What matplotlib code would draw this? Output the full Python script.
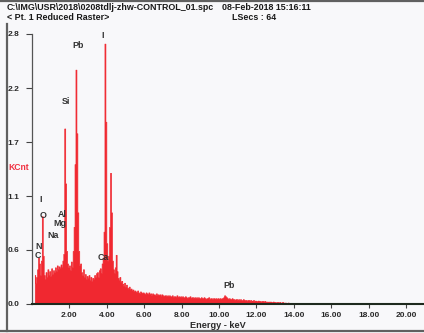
import numpy as np
import matplotlib
matplotlib.use("Agg")
import matplotlib.pyplot as plt
from matplotlib.lines import Line2D

# ---- spectrum data (KCnt per 0.05 keV channel, starting at 0.15 keV) ----
channel_start_kev = 0.15
channel_width_kev = 0.05
counts_kcnt = [
    0.30, 0.22, 0.28, 0.36, 0.48, 0.42, 0.30, 0.45, 0.91, 0.50,
    0.30, 0.26, 0.33, 0.28, 0.36, 0.30, 0.34, 0.29, 0.37, 0.31,
    0.35, 0.33, 0.38, 0.34, 0.40, 0.36, 0.39, 0.37, 0.41, 0.38,
    0.45, 0.52, 1.82, 1.25, 0.55, 0.42, 0.38, 0.40, 0.35, 0.44,
    0.38, 0.55, 0.80, 1.45, 2.43, 1.77, 0.95, 0.55, 0.40, 0.42,
    0.33, 0.30, 0.36, 0.28, 0.31, 0.26, 0.29, 0.27, 0.30, 0.25,
    0.28, 0.24, 0.27, 0.26, 0.30, 0.28, 0.32, 0.33, 0.28, 0.35,
    0.37, 0.32, 0.42, 0.48, 0.75, 2.70, 1.89, 0.63, 0.45, 0.50,
    0.80, 1.36, 0.95, 0.45, 0.36, 0.32, 0.38, 0.51, 0.34, 0.27,
    0.25, 0.28, 0.23, 0.24, 0.21, 0.19, 0.22, 0.18, 0.20, 0.17,
    0.16, 0.18, 0.15, 0.16, 0.14, 0.15, 0.13, 0.14, 0.13, 0.12,
    0.14, 0.12, 0.11, 0.13, 0.12, 0.11, 0.12, 0.11, 0.10, 0.12,
    0.11, 0.10, 0.12, 0.10, 0.11, 0.09, 0.11, 0.10, 0.10, 0.09,
    0.11, 0.09, 0.10, 0.09, 0.10, 0.08, 0.10, 0.09, 0.08, 0.09,
    0.09, 0.08, 0.09, 0.08, 0.09, 0.08, 0.08, 0.09, 0.07, 0.08,
    0.08, 0.07, 0.09, 0.07, 0.08, 0.07, 0.08, 0.07, 0.08, 0.07,
    0.07, 0.08, 0.07, 0.06, 0.07, 0.07, 0.08, 0.06, 0.07, 0.07,
    0.06, 0.07, 0.06, 0.07, 0.06, 0.07, 0.06, 0.06, 0.07, 0.06,
    0.06, 0.07, 0.06, 0.05, 0.06, 0.06, 0.07, 0.05, 0.06, 0.06,
    0.05, 0.06, 0.06, 0.05, 0.06, 0.05, 0.06, 0.05, 0.06, 0.05,
    0.06, 0.06, 0.07, 0.09, 0.08, 0.07, 0.06, 0.05, 0.06, 0.05,
    0.05, 0.06, 0.05, 0.05, 0.04, 0.05, 0.05, 0.04, 0.05, 0.04,
    0.05, 0.04, 0.04, 0.05, 0.04, 0.04, 0.04, 0.035, 0.04, 0.04,
    0.035, 0.04, 0.03, 0.035, 0.04, 0.03, 0.035, 0.03, 0.03, 0.035,
    0.03, 0.03, 0.025, 0.03, 0.03, 0.025, 0.03, 0.025, 0.025, 0.02,
    0.025, 0.02, 0.025, 0.02, 0.02, 0.025, 0.02, 0.02, 0.015, 0.02,
    0.02, 0.015, 0.02, 0.015, 0.015, 0.02, 0.015, 0.012, 0.015, 0.012,
    0.012, 0.015, 0.01, 0.012, 0.01, 0.012, 0.01, 0.008, 0.01, 0.008,
    0.008, 0.01, 0.007, 0.008, 0.006, 0.007, 0.005, 0.006, 0.004, 0.003,
]

# element identifications: (label, energy keV, KCnt position of label)
element_labels = ["I", "O", "Al", "Mg", "Na", "N", "C", "Si", "Pb", "I", "Ca", "Pb"]
element_x_kev = [0.48, 0.59, 1.60, 1.50, 1.12, 0.37, 0.32, 1.82, 2.46, 3.80, 3.80, 10.53]
element_y_kcnt = [1.08, 0.92, 0.93, 0.84, 0.71, 0.60, 0.50, 2.10, 2.68, 2.78, 0.48, 0.19]

y_tick_labels = ["0.0", "0.6", "1.1", "1.7", "2.2", "2.8"]
x_tick_values = [2, 4, 6, 8, 10, 12, 14, 16, 18, 20]
x_tick_labels = ["2.00", "4.00", "6.00", "8.00", "10.00", "12.00",
                 "14.00", "16.00", "18.00", "20.00"]

header_path = "C:\\IMG\\USR\\2018\\0208tdlj-zhw-CONTROL_01.spc"
header_date = "08-Feb-2018 15:16:11"
header_mode = "< Pt. 1 Reduced Raster>"
header_live = "LSecs : 64"

energy_kev = channel_start_kev + channel_width_kev * np.arange(len(counts_kcnt))
counts = np.array(counts_kcnt)

W, H = 424, 333
bg = "#f8f8fa"
spec_red = "#f02830"
txt = "#2a2a2a"
font = "Liberation Sans"

fig = plt.figure(figsize=(W / 100, H / 100), dpi=100, facecolor=bg)
ax = fig.add_axes([32 / W, 29 / H, (W - 32) / W, 270 / H], facecolor=bg)

ax.fill_between(energy_kev, 0, counts, step="mid", color=spec_red,
                linewidth=0.5, edgecolor=spec_red)

ax.set_xlim(0, (W - 32) / 18.7)
ax.set_ylim(0, 2.8)

for side in ("top", "right"):
    ax.spines[side].set_visible(False)
ax.spines["left"].set_color("#555555")
ax.spines["left"].set_linewidth(0.9)
ax.spines["bottom"].set_color("#1e2a1e")
ax.spines["bottom"].set_linewidth(1.5)

ax.set_yticks(np.linspace(0, 2.8, len(y_tick_labels)))
ax.set_yticklabels(y_tick_labels)
ax.set_xticks(x_tick_values)
ax.set_xticklabels(x_tick_labels)
ax.tick_params(axis="y", direction="out", length=4, width=0.8,
               color="#444444", pad=5)
ax.tick_params(axis="x", direction="out", length=3, width=0.8,
               color="#444444", pad=2.5)
for lab in ax.get_xticklabels() + ax.get_yticklabels():
    lab.set_fontfamily(font)
    lab.set_fontweight("bold")
    lab.set_fontsize(6)
    lab.set_color(txt)

for name, ex, ey in zip(element_labels, element_x_kev, element_y_kcnt):
    ax.text(ex, ey, name, ha="center", va="center", fontsize=6.4,
            fontweight="bold", family=font, color="#333333")

# header block and axis captions
hdr = dict(ha="left", va="center", fontsize=6.4, fontweight="bold",
           family=font, color="#1a1a1a")
fig.text(7 / W, 1 - 7 / H, header_path, **hdr)
fig.text(222 / W, 1 - 7 / H, header_date, **hdr)
fig.text(7 / W, 1 - 17 / H, header_mode, **hdr)
fig.text(232 / W, 1 - 17 / H, header_live, **hdr)
fig.text(8 / W, 1 - 168 / H, "KCnt", ha="left", va="center",
         fontsize=6.2, fontweight="bold", family=font, color="#f03040")
fig.text(218 / W, 1 - 325 / H, "Energy - keV", ha="center", va="center",
         fontsize=6.6, fontweight="bold", family=font, color=txt)

# window frame lines
frame = dict(color="#606060", linewidth=1.6, transform=fig.transFigure)
fig.add_artist(Line2D([6.5 / W, 6.5 / W], [1 - 24 / H, 1 - 331 / H], **frame))
fig.add_artist(Line2D([0, 1], [1 - 331 / H, 1 - 331 / H], **frame))
fig.add_artist(Line2D([0, 1], [1 - 0.5 / H, 1 - 0.5 / H], **frame))

fig.savefig("out.png", dpi=100, facecolor=bg)
